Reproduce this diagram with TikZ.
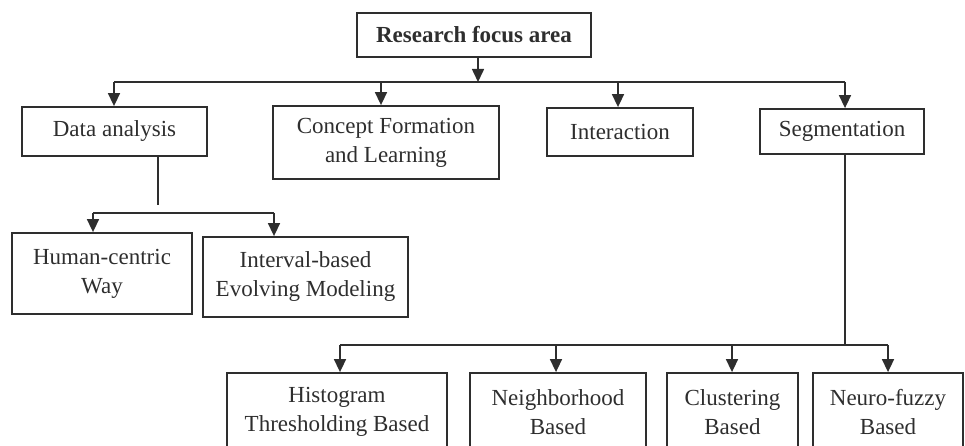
\documentclass[tikz,border=0pt]{standalone}
\usepackage{fontspec}
\setmainfont{Liberation Serif}
\usetikzlibrary{arrows.meta}
\definecolor{ink}{HTML}{2E2E2E}
\begin{document}
\begin{tikzpicture}[x=1pt,y=-1pt,
  box/.style={draw=ink,line width=1.8pt,text=ink,inner sep=0pt,align=center,
              font=\fontsize{23}{29}\selectfont},
  link/.style={draw=ink,line width=1.6pt},
  arr/.style={link,-{Triangle[width=12pt,length=13pt]}}]
\useasboundingbox (0,0) rectangle (965,446);
\clip (0,0) rectangle (965,446);

% root
\node[box,minimum width=234pt,minimum height=44pt,
      font=\fontsize{23}{29}\selectfont\bfseries] (root) at (474,35) {Research focus area};

% first level
\node[box,minimum width=185pt,minimum height=49pt] (da) at (114.5,131.5) {Data analysis};
\node[box,minimum width=226pt,minimum height=73pt] (cf) at (386,142.5) {Concept Formation\\and Learning};
\node[box,minimum width=146pt,minimum height=48pt] (ia) at (620,132) {Interaction};
\node[box,minimum width=164pt,minimum height=45pt] (sg) at (842,131.5) {Segmentation};

% data analysis branch
\node[box,minimum width=180pt,minimum height=81pt] (hc) at (102,273.5) {Human-centric\\Way};
\node[box,minimum width=205pt,minimum height=80pt] (ib) at (305.5,277) {Interval-based\\Evolving Modeling};

% segmentation branch
\node[box,minimum width=220pt,minimum height=78pt] (ht) at (337,412) {Histogram\\Thresholding Based};
\node[box,minimum width=176pt,minimum height=78pt] (nb) at (558,412) {Neighborhood\\Based};
\node[box,minimum width=131pt,minimum height=78pt] (cl) at (732.5,412) {Clustering\\Based};
\node[box,minimum width=150pt,minimum height=78pt] (nf) at (888,412) {Neuro-fuzzy\\Based};

% top bus
\coordinate (rootDrop) at (478,82);
\coordinate (busDa) at (114,82);
\coordinate (busCf) at (381,82);
\coordinate (busIa) at (618,82);
\coordinate (busSg) at (845,82);
\draw[link] (busDa) -- (busSg);
\draw[arr] (root.south -| rootDrop) -- (rootDrop);
\draw[arr] (busDa) -- (da.north -| busDa);
\draw[arr] (busCf) -- (cf.north -| busCf);
\draw[arr] (busIa) -- (ia.north -| busIa);
\draw[arr] (busSg) -- (sg.north -| busSg);

% data analysis fork
\coordinate (daEnd) at (158,205);
\coordinate (forkL) at (93,213);
\coordinate (forkR) at (274,213);
\draw[link] (da.south -| daEnd) -- (daEnd);
\draw[link] (forkL) -- (forkR);
\draw[arr] (forkL) -- (hc.north -| forkL);
\draw[arr] (forkR) -- (ib.north -| forkR);

% segmentation fork
\coordinate (segJoin) at (845,345);
\coordinate (lowHt) at (340,345);
\coordinate (lowNb) at (556,345);
\coordinate (lowCl) at (732,345);
\coordinate (lowNf) at (888,345);
\draw[link] (sg.south -| segJoin) -- (segJoin);
\draw[link] (lowHt) -- (lowNf);
\draw[arr] (lowHt) -- (ht.north -| lowHt);
\draw[arr] (lowNb) -- (nb.north -| lowNb);
\draw[arr] (lowCl) -- (cl.north -| lowCl);
\draw[arr] (lowNf) -- (nf.north -| lowNf);
\end{tikzpicture}
\end{document}
